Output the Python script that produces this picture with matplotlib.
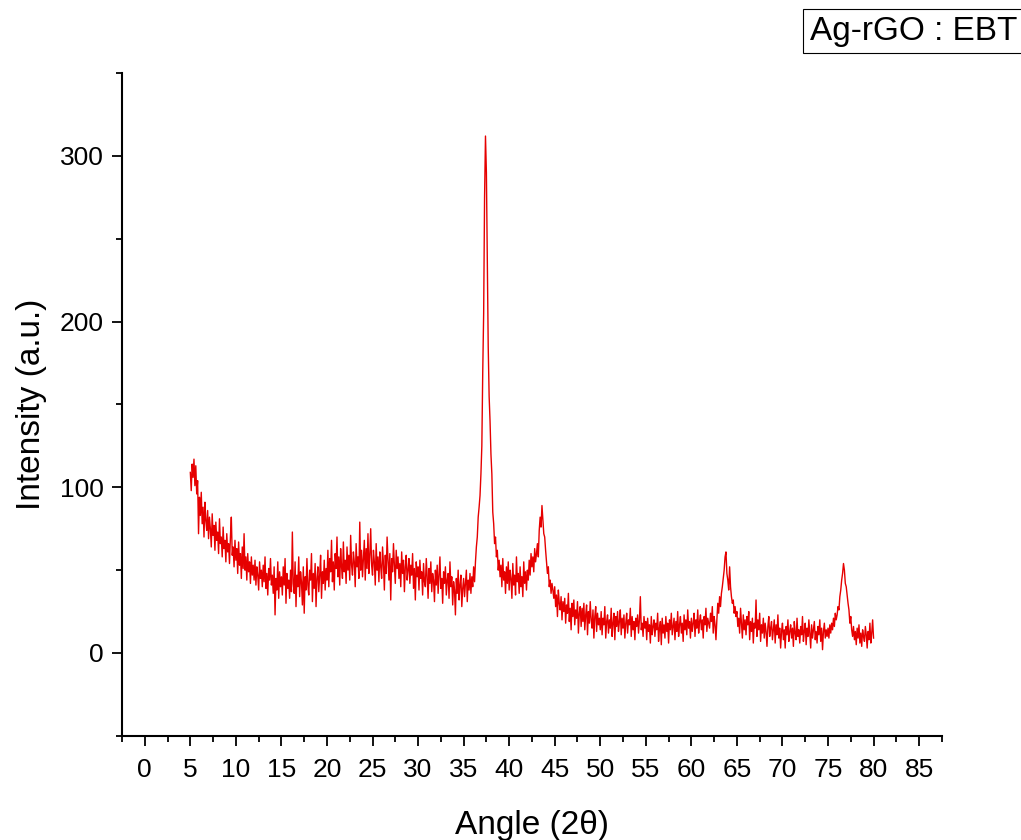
import numpy as np
import matplotlib

matplotlib.use("Agg")

import matplotlib.pyplot as plt
from matplotlib.ticker import MultipleLocator


# XRD intensity, 0.1 deg steps, one list per 5 deg
ANGLE_START = 5.0
ANGLE_STEP = 0.1

i05 = [109, 98, 114, 106, 117, 101, 113, 96, 104, 72,
       94, 83, 97, 78, 88, 70, 91, 80, 74, 86,
       69, 82, 75, 64, 84, 71, 77, 62, 79, 68,
       73, 60, 81, 66, 70, 58, 76, 63, 68, 55,
       72, 61, 66, 54, 70, 82, 59, 64, 52, 68]
i10 = [56, 63, 48, 67, 53, 60, 45, 64, 51, 72,
       50, 58, 44, 60, 49, 55, 42, 58, 47, 53,
       44, 56, 41, 52, 47, 38, 55, 45, 50, 40,
       53, 43, 58, 39, 48, 35, 51, 44, 57, 41,
       47, 36, 52, 23, 45, 38, 55, 33, 49, 40]
i15 = [46, 35, 52, 41, 57, 30, 48, 39, 44, 33,
       50, 37, 73, 42, 36, 55, 28, 47, 40, 58,
       34, 49, 43, 29, 52, 24, 46, 38, 57, 41,
       35, 50, 44, 60, 31, 48, 39, 54, 28, 45,
       52, 37, 47, 59, 33, 49, 42, 56, 38, 51]
i20 = [44, 62, 40, 57, 49, 68, 43, 55, 38, 60,
       51, 70, 46, 58, 41, 63, 52, 45, 67, 49,
       56, 42, 64, 50, 59, 44, 71, 53, 47, 61,
       55, 40, 66, 52, 58, 45, 79, 50, 62, 46,
       57, 68, 44, 63, 51, 72, 48, 59, 75, 53]
i25 = [47, 62, 55, 41, 66, 50, 58, 43, 61, 52,
       45, 64, 54, 38, 59, 48, 70, 56, 44, 60,
       32, 57, 49, 66, 53, 42, 62, 51, 58, 45,
       54, 40, 61, 48, 56, 37, 52, 59, 44, 50,
       57, 42, 53, 47, 60, 39, 51, 32, 55, 46]
i30 = [52, 38, 56, 45, 49, 35, 54, 43, 40, 57,
       46, 33, 51, 42, 55, 37, 48, 44, 31, 50,
       41, 53, 36, 47, 58, 39, 45, 30, 49, 42,
       52, 35, 44, 48, 33, 55, 40, 46, 29, 43,
       38, 23, 45, 36, 50, 32, 41, 47, 28, 39]
i35 = [45, 34, 42, 50, 31, 44, 38, 48, 36, 46,
       40, 52, 43, 55, 64, 70, 82, 88, 95, 108,
       125, 170, 205, 275, 312, 290, 240, 185, 155, 140,
       120, 108, 85, 78, 66, 70, 58, 62, 50, 56,
       46, 53, 40, 57, 44, 49, 36, 52, 42, 55]
i40 = [38, 50, 45, 33, 54, 41, 47, 35, 58, 43,
       48, 36, 52, 40, 46, 34, 55, 42, 49, 38,
       50, 44, 56, 47, 60, 52, 58, 49, 63, 55,
       60, 66, 58, 74, 82, 76, 89, 80, 72, 70,
       62, 55, 48, 52, 40, 44, 36, 42, 38, 33]
i45 = [40, 28, 35, 22, 38, 30, 26, 34, 20, 31,
       25, 33, 18, 29, 24, 36, 19, 27, 14, 30,
       22, 32, 17, 26, 21, 31, 12, 24, 28, 16,
       27, 19, 30, 14, 23, 29, 11, 25, 18, 31,
       20, 15, 26, 9, 22, 28, 13, 24, 17, 21]
i50 = [14, 25, 11, 21, 17, 28, 9, 19, 23, 12,
       20, 15, 27, 10, 18, 24, 8, 22, 16, 25,
       13, 19, 26, 11, 21, 15, 23, 9, 18, 24,
       12, 20, 17, 27, 10, 22, 14, 19, 8, 21,
       16, 23, 12, 20, 34, 14, 18, 10, 22, 15]
i55 = [19, 8, 21, 13, 17, 6, 22, 11, 16, 20,
       10, 18, 14, 24, 7, 15, 19, 5, 21, 12,
       17, 9, 22, 13, 18, 6, 20, 14, 24, 11,
       16, 21, 8, 19, 13, 25, 10, 17, 22, 12,
       18, 7, 23, 14, 20, 11, 26, 15, 19, 9]
i60 = [21, 13, 18, 24, 10, 20, 15, 26, 12, 19,
       23, 14, 20, 9, 22, 17, 27, 13, 21, 18,
       15, 24, 19, 28, 12, 22, 17, 8, 20, 30,
       24, 34, 28, 36, 40, 45, 50, 58, 61, 48,
       44, 38, 52, 40, 34, 30, 32, 24, 28, 22]
i65 = [25, 16, 21, 12, 27, 18, 9, 23, 14, 20,
       11, 22, 17, 25, 8, 19, 13, 21, 6, 18,
       15, 32, 10, 20, 14, 24, 7, 17, 12, 21,
       9, 18, 13, 4, 16, 22, 10, 15, 19, 8,
       14, 20, 6, 17, 11, 23, 9, 15, 3, 13]
i70 = [18, 8, 14, 3, 16, 11, 20, 7, 13, 17,
       9, 15, 4, 19, 12, 8, 21, 10, 14, 6,
       16, 11, 22, 7, 13, 18, 5, 15, 10, 20,
       12, 3, 17, 9, 14, 19, 8, 13, 6, 16,
       11, 20, 7, 15, 2, 13, 18, 9, 14, 10]
i75 = [15, 9, 17, 12, 18, 14, 21, 16, 24, 20,
       23, 28, 26, 34, 38, 44, 48, 54, 50, 42,
       40, 35, 30, 26, 18, 22, 14, 10, 16, 8,
       13, 5, 15, 9, 17, 6, 12, 4, 14, 10,
       7, 16, 11, 3, 13, 8, 18, 6, 12, 20,
       9]

SAMPLE_LABEL = "Ag-rGO : EBT"
X_LABEL = "Angle (2θ)"
Y_LABEL = "Intensity (a.u.)"

intensidade = np.array(
    i05 + i10 + i15 + i20 + i25 + i30 + i35 + i40
    + i45 + i50 + i55 + i60 + i65 + i70 + i75,
    dtype=float,
)
angulo = ANGLE_START + ANGLE_STEP * np.arange(len(intensidade))

plt.rcParams["font.family"] = ["Liberation Sans", "DejaVu Sans"]

fig = plt.figure(figsize=(10.21, 8.4), dpi=100)
ax = fig.add_axes([0.1195, 0.124, 0.803, 0.789])

ax.plot(angulo, intensidade, color="#e60000", linewidth=1.0)

ax.set_xlim(-2.5, 87.5)
ax.set_ylim(-50, 350)

ax.xaxis.set_major_locator(MultipleLocator(5))
ax.xaxis.set_minor_locator(MultipleLocator(2.5))
ax.yaxis.set_major_locator(MultipleLocator(100))
ax.yaxis.set_minor_locator(MultipleLocator(50))

for lado in ["top", "right"]:
    ax.spines[lado].set_visible(False)
for lado in ["left", "bottom"]:
    ax.spines[lado].set_linewidth(1.5)

ax.tick_params(axis="both", which="major", direction="out", length=7,
               width=1.3, labelsize=19)
ax.tick_params(axis="x", which="major", pad=9)
ax.tick_params(axis="y", which="major", pad=6)
ax.tick_params(axis="both", which="minor", direction="out", length=4,
               width=1.3)

ax.set_xlabel(X_LABEL, fontsize=24, labelpad=20)
ax.set_ylabel(Y_LABEL, fontsize=24, labelpad=9)

fig.text(
    0.793,
    0.963,
    SAMPLE_LABEL,
    fontsize=24,
    ha="left",
    va="center",
    bbox=dict(boxstyle="square,pad=0.2", facecolor="white",
              edgecolor="black", linewidth=0.8),
)

fig.savefig("out.png", dpi=100)
plt.close(fig)
